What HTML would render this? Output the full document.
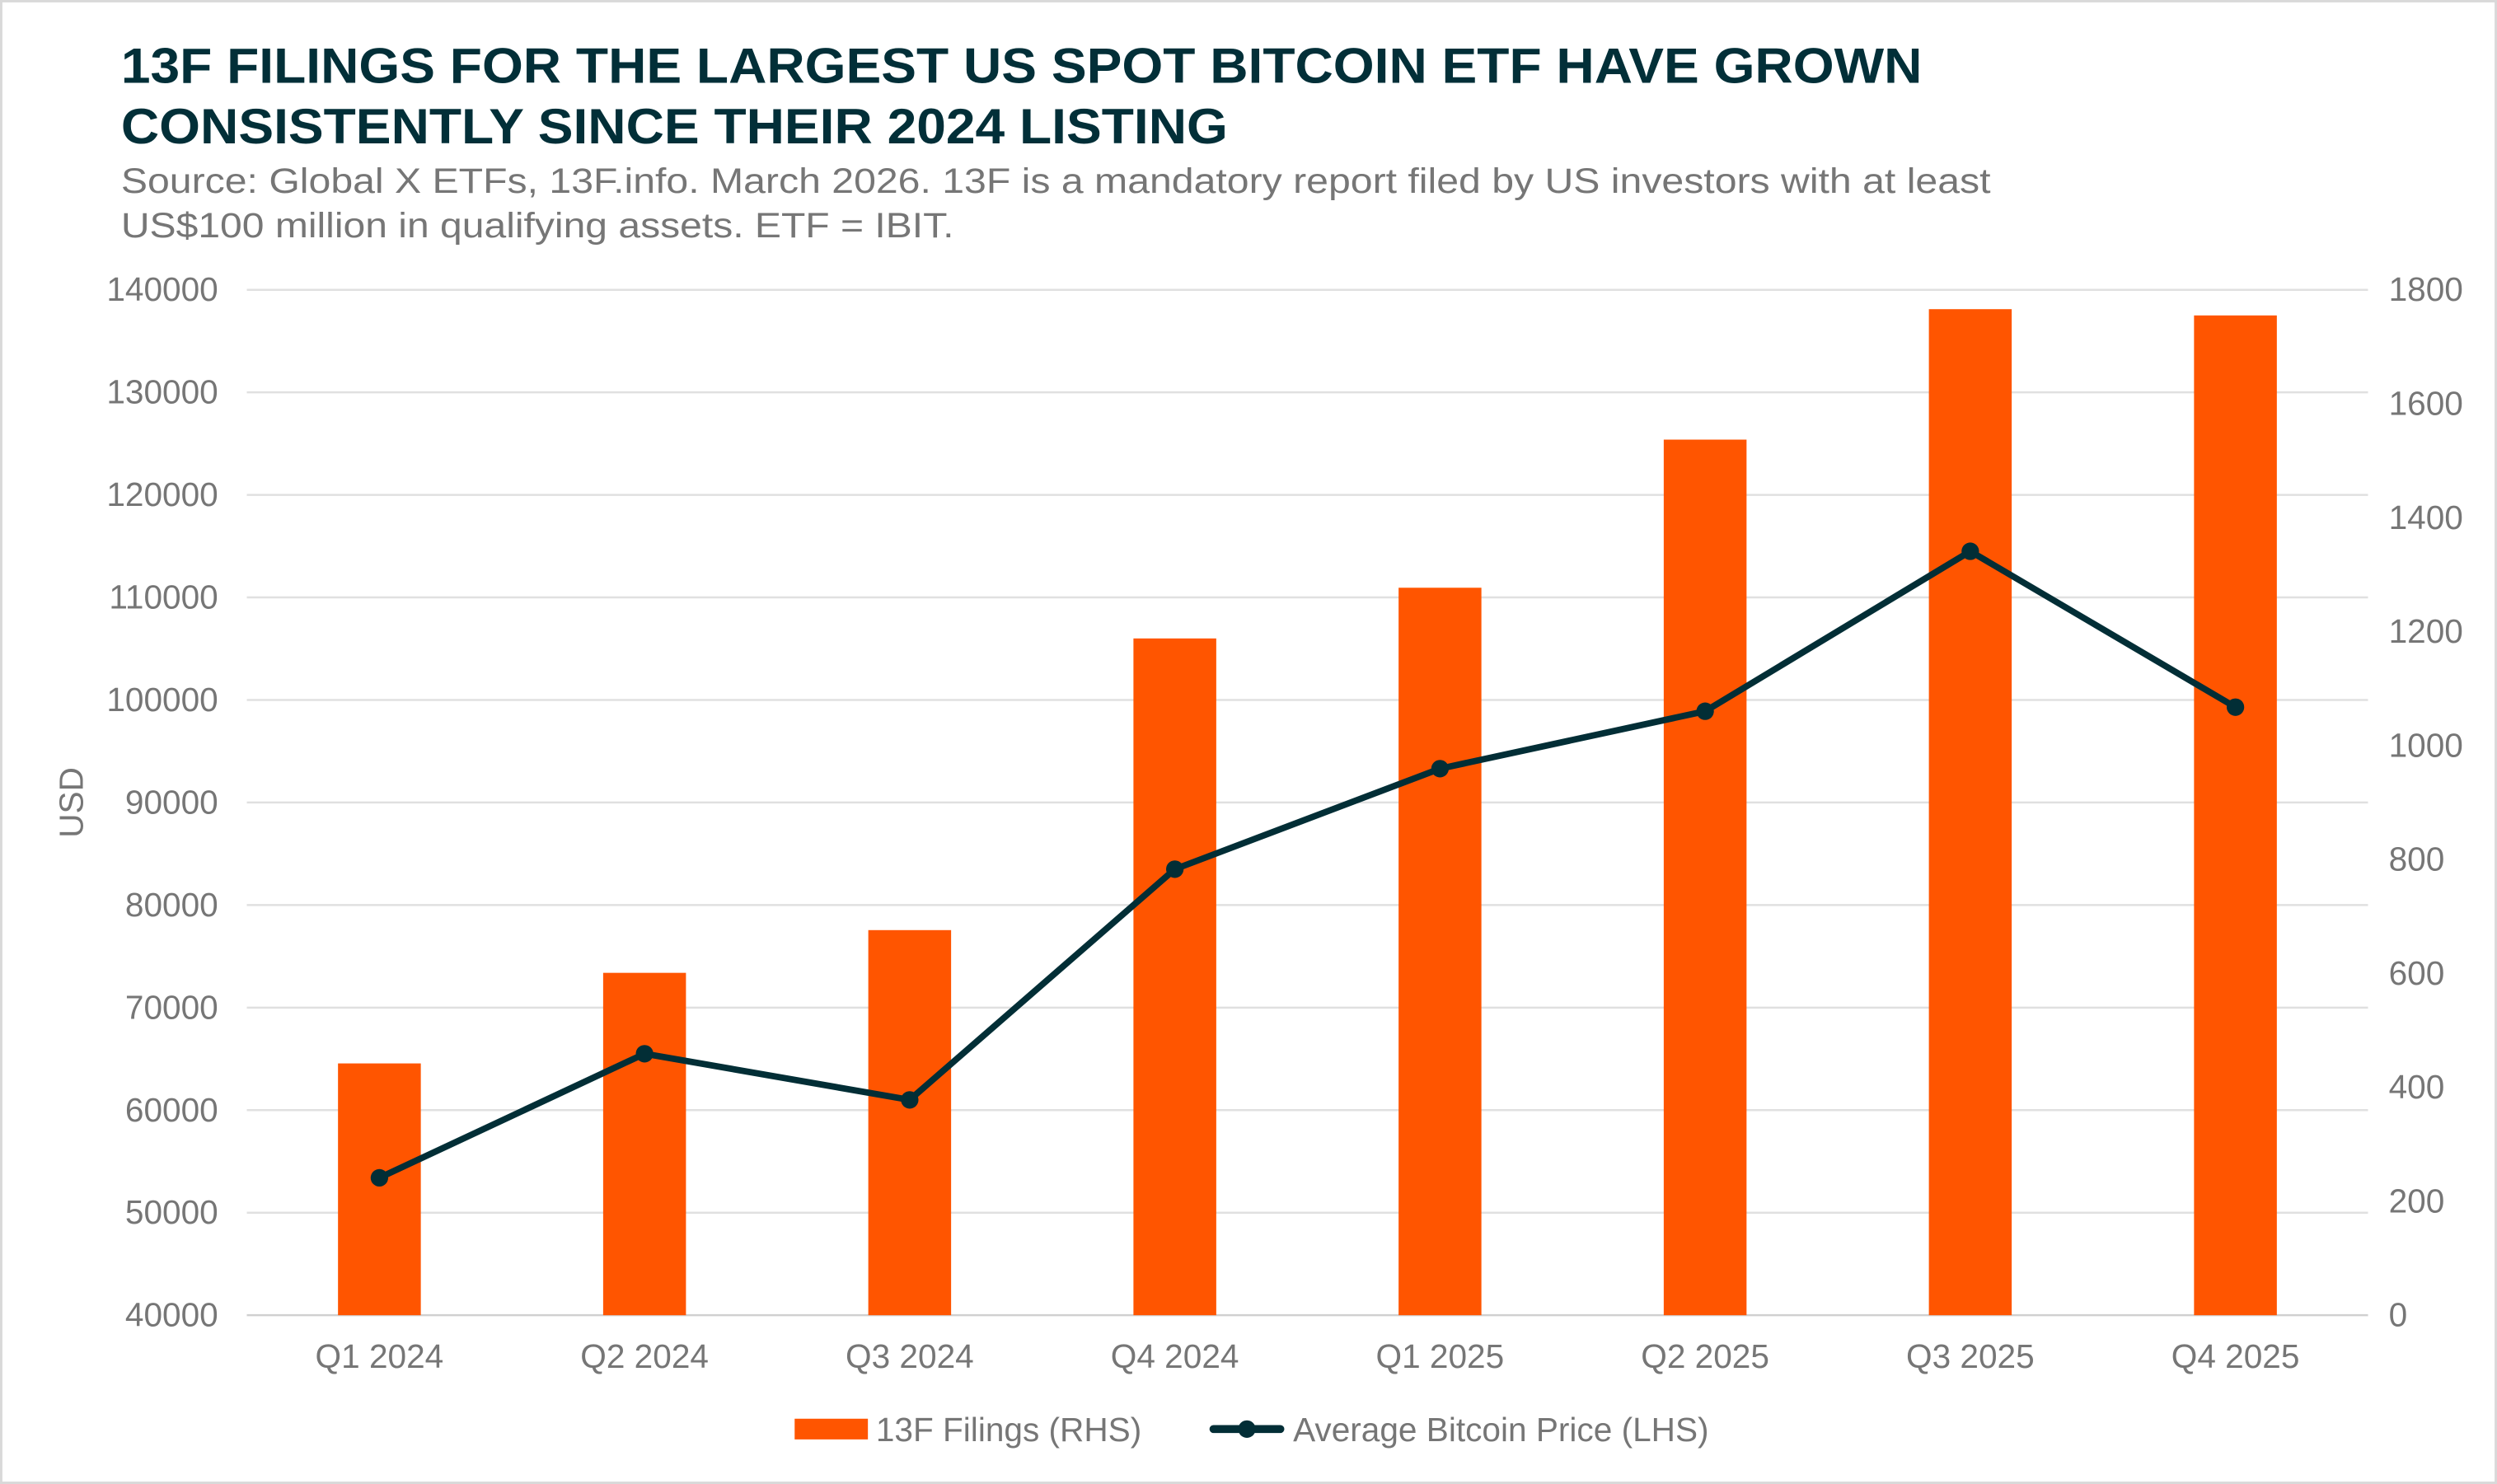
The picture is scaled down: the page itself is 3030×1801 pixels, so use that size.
<!DOCTYPE html>
<html><head><meta charset="utf-8"><style>html,body{margin:0;padding:0;background:#fff}svg{display:block}</style></head>
<body>
<svg id="chart" width="3030" height="1801" viewBox="0 0 1568 932" xmlns="http://www.w3.org/2000/svg" font-family="Liberation Sans, Arial, sans-serif">
<rect x="0" y="0" width="1568" height="932" fill="#fff"/>
<rect x="0.75" y="0.75" width="1566.5" height="930.5" fill="none" stroke="#d9d9d9" stroke-width="1.5"/>
<g fill="#022f38" font-weight="bold" font-size="31">
<text x="76" y="52" textLength="1131" lengthAdjust="spacingAndGlyphs">13F FILINGS FOR THE LARGEST US SPOT BITCOIN ETF HAVE GROWN</text>
<text x="76" y="90" textLength="695" lengthAdjust="spacingAndGlyphs">CONSISTENTLY SINCE THEIR 2024 LISTING</text>
</g>
<g fill="#767676" font-size="22">
<text x="76" y="121" textLength="1174" lengthAdjust="spacingAndGlyphs">Source: Global X ETFs, 13F.info. March 2026. 13F is a mandatory report filed by US investors with at least</text>
<text x="76" y="149" textLength="523" lengthAdjust="spacingAndGlyphs">US$100 million in qualifying assets. ETF = IBIT.</text>
</g>
<g id="grid"></g><g id="bars"></g><g id="line"></g><g id="axes"></g>
<text x="0" y="0" transform="translate(52,504) rotate(-90)" text-anchor="middle" fill="#767676" font-size="21">USD</text>
<g>
<g>
<rect x="499" y="891" width="46" height="13" fill="#ff5500"/>
<text x="550" y="905" fill="#767676" font-size="21">13F Filings (RHS)</text>
</g>
<g>
<line x1="762" y1="897.5" x2="804" y2="897.5" stroke="#022e36" stroke-width="5" stroke-linecap="round"/>
<circle cx="783" cy="897.5" r="5.5" fill="#022e36"/>
<text x="812" y="905" fill="#767676" font-size="21">Average Bitcoin Price (LHS)</text>
</g>
</g>
</svg>
<script>
const categories = ["Q1 2024","Q2 2024","Q3 2024","Q4 2024","Q1 2025","Q2 2025","Q3 2025","Q4 2025"];
const filings = [442, 601, 676, 1188, 1277, 1537, 1766, 1755];
const btcPrice = [53400, 65500, 61000, 83500, 93300, 98900, 114500, 99300];
const leftTicks = [40000,50000,60000,70000,80000,90000,100000,110000,120000,130000,140000];
const rightTicks = [0,200,400,600,800,1000,1200,1400,1600,1800];
const NS = "http://www.w3.org/2000/svg";
const X0 = 155, X1 = 1487, Y0 = 826, Y1 = 182;
const xc = i => X0 + (X1 - X0) / categories.length * (i + 0.5);
const yL = v => Y0 - (v - 40000) / 100000 * (Y0 - Y1);
const yR = v => Y0 - v / 1800 * (Y0 - Y1);
function mk(tag, attrs, parent) { const e = document.createElementNS(NS, tag); for (const k in attrs) e.setAttribute(k, attrs[k]); document.getElementById(parent).appendChild(e); return e; }
leftTicks.forEach(t => {
  const g = mk("line", {x1: X0, x2: X1, y1: yL(t), y2: yL(t), stroke: t === 40000 ? "#d0d0d0" : "#e0e0e0", "stroke-width": 1.3}, "grid");
  
  
  const tx = mk("text", {x: 137, y: yL(t) + 7, "text-anchor": "end", fill: "#767676", "font-size": 21}, "axes");
  tx.textContent = t;
  
  
});
rightTicks.forEach(t => {
  const tx = mk("text", {x: 1500, y: yR(t) + 7, "text-anchor": "start", fill: "#767676", "font-size": 21}, "axes");
  tx.textContent = t;
  
  
});
categories.forEach((c, i) => {
  const tx = mk("text", {x: xc(i), y: 859, "text-anchor": "middle", fill: "#767676", "font-size": 21}, "axes");
  tx.textContent = c;
  
  
  const b = mk("rect", {x: xc(i) - 26, y: yR(filings[i]), width: 52, height: Y0 - yR(filings[i]), fill: "#ff5500"}, "bars");
  
  
});
const pts = btcPrice.map((v, i) => xc(i) + "," + yL(v)).join(" ");
const pl = mk("polyline", {points: pts, fill: "none", stroke: "#022e36", "stroke-width": 4, "stroke-linejoin": "round"}, "line");


btcPrice.forEach((v, i) => {
  const c = mk("circle", {cx: xc(i), cy: yL(v), r: 5.5, fill: "#022e36"}, "line");
  
  
});
</script>
</body></html>
